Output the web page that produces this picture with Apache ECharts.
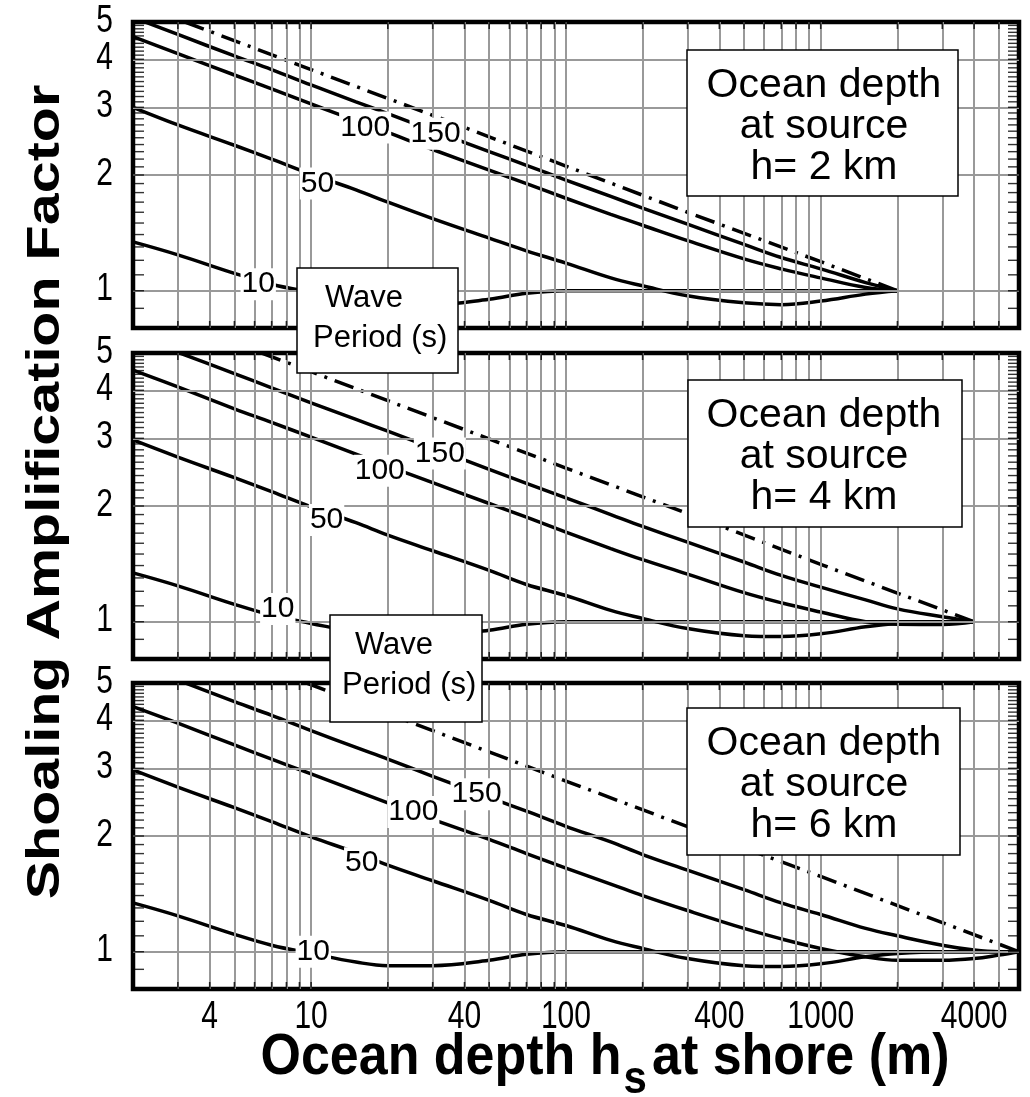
<!DOCTYPE html>
<html>
<head>
<meta charset="utf-8">
<title>Shoaling amplification factor</title>
<script src="https://cdn.jsdelivr.net/npm/echarts@6/dist/echarts.min.js"></script>
<style>
html, body { margin: 0; padding: 0; background: #fff; }
#chart { width: 1030px; height: 1097px; }
</style>
</head>
<body>
<div id="chart"></div>
<script>
var depths = [2, 3, 5, 7, 10, 15, 20, 30, 50, 70, 100, 150, 200, 300, 500, 700, 1000, 1500, 2000, 3000, 4000, 5000, 6000];

// source depth 2 km (curves end at 2000 m)
var h2_T10  = [1.34, 1.24, 1.11, 1.04, 0.99, 0.94, 0.92, 0.92, 0.95, 0.985, 1.0, 1.0, 1.0, 1.0, 1.0, 1.0, 1.0, 1.0, 1.0];
var h2_T50  = [3.0, 2.70, 2.39, 2.20, 2.01, 1.83, 1.70, 1.54, 1.37, 1.27, 1.18, 1.08, 1.03, 0.97, 0.93, 0.92, 0.94, 0.98, 1.0];
var h2_T100 = [4.58, 4.14, 3.64, 3.35, 3.06, 2.77, 2.58, 2.33, 2.06, 1.90, 1.74, 1.58, 1.48, 1.35, 1.21, 1.14, 1.08, 1.02, 1.0];
var h2_T150 = [5.14, 4.64, 4.08, 3.76, 3.43, 3.10, 2.89, 2.61, 2.30, 2.12, 1.94, 1.76, 1.64, 1.49, 1.32, 1.22, 1.14, 1.05, 1.0];
var h2_greenX = [3.2, 10, 30, 100, 300, 1000, 2000];
var h2_greenY = [5.0, 3.76, 2.86, 2.11, 1.60, 1.19, 1.0];

// source depth 4 km
var h4_T10  = [1.34, 1.24, 1.11, 1.04, 0.99, 0.94, 0.92, 0.92, 0.95, 0.985, 1.0, 1.0, 1.0, 1.0, 1.0, 1.0, 1.0, 1.0, 1.0, 1.0, 1.0];
var h4_T50  = [2.97, 2.68, 2.37, 2.18, 1.99, 1.81, 1.68, 1.53, 1.36, 1.25, 1.17, 1.07, 1.02, 0.96, 0.92, 0.915, 0.93, 0.97, 0.99, 1.0, 1.0];
var h4_T100 = [4.51, 4.08, 3.58, 3.30, 3.02, 2.73, 2.54, 2.30, 2.03, 1.87, 1.71, 1.55, 1.45, 1.33, 1.19, 1.12, 1.06, 1.0, 0.985, 0.984, 1.0];
var h4_T150 = [5.56, 5.02, 4.42, 4.06, 3.71, 3.36, 3.13, 2.83, 2.49, 2.29, 2.10, 1.90, 1.77, 1.61, 1.43, 1.32, 1.23, 1.14, 1.08, 1.03, 1.0];
var h4_greenX = [6.4, 10, 40, 100, 400, 1000, 4000];
var h4_greenY = [5.0, 4.47, 3.16, 2.51, 1.78, 1.41, 1.0];

// source depth 6 km
var h6_T10  = [1.34, 1.24, 1.11, 1.04, 0.99, 0.94, 0.92, 0.92, 0.95, 0.985, 1.0, 1.0, 1.0, 1.0, 1.0, 1.0, 1.0, 1.0, 1.0, 1.0, 1.0, 1.0, 1.0];
var h6_T50  = [2.97, 2.68, 2.37, 2.18, 1.99, 1.81, 1.68, 1.53, 1.36, 1.25, 1.17, 1.07, 1.02, 0.96, 0.92, 0.915, 0.93, 0.97, 0.99, 1.0, 1.0, 1.0, 1.0];
var h6_T100 = [4.34, 3.93, 3.45, 3.17, 2.90, 2.62, 2.44, 2.21, 1.96, 1.80, 1.65, 1.50, 1.40, 1.28, 1.15, 1.08, 1.02, 0.97, 0.95, 0.95, 0.96, 0.98, 1.0];
var h6_T150 = [5.63, 5.09, 4.47, 4.12, 3.76, 3.40, 3.17, 2.86, 2.52, 2.32, 2.12, 1.93, 1.79, 1.63, 1.45, 1.34, 1.25, 1.15, 1.10, 1.04, 1.01, 1.0, 1.0];
var h6_greenX = [9.6, 30, 60, 100, 600, 1000, 6000];
var h6_greenY = [5.0, 3.76, 3.16, 2.78, 1.78, 1.57, 1.0];

// wave period labels sitting on the curves: [depth, factor]
var periods = ['10', '50', '100', '150'];
var h2_labelAt = [[6.2, 1.04], [10.6, 1.90], [16.3, 2.66], [30.8, 2.56]];
var h4_labelAt = [[7.4, 1.08], [11.5, 1.84], [18.6, 2.47], [32, 2.74]];
var h6_labelAt = [[10.2, 1.0], [15.8, 1.70], [25.2, 2.31], [44.6, 2.57]];

// axes
var xGridLines = [3, 4, 5, 6, 7, 8, 9, 10, 20, 30, 40, 50, 60, 70, 80, 90, 100, 200, 300, 400, 500, 600, 700, 800, 900, 1000, 2000, 3000, 4000, 5000];
var xTickLabels = [4, 10, 40, 100, 400, 1000, 4000];
var yGridLines = [1, 2, 3, 4];
var yTickLabels = [1, 2, 3, 4, 5];
var yMinorTicks = [0.8, 0.9, 1.0, 1.1, 1.2, 1.3, 1.4, 1.5, 1.6, 1.7, 1.8, 1.9, 2.0, 2.1, 2.2, 2.3, 2.4, 2.5, 2.6, 2.7, 2.8, 2.9,
    3.0, 3.1, 3.2, 3.3, 3.4, 3.5, 3.6, 3.7, 3.8, 3.9, 4.0, 4.1, 4.2, 4.3, 4.4, 4.5, 4.6, 4.7, 4.8, 4.9, 5.0];
var xMin = 2, xMax = 6000, yMin = 0.8, yMax = 5;

var FONT = '"Liberation Sans", Arial, Helvetica, sans-serif';

var panels = [
    { top: 22,  curves: [h2_T10, h2_T50, h2_T100, h2_T150], gx: h2_greenX, gy: h2_greenY, labels: h2_labelAt, km: '2' },
    { top: 353, curves: [h4_T10, h4_T50, h4_T100, h4_T150], gx: h4_greenX, gy: h4_greenY, labels: h4_labelAt, km: '4' },
    { top: 683, curves: [h6_T10, h6_T50, h6_T100, h6_T150], gx: h6_greenX, gy: h6_greenY, labels: h6_labelAt, km: '6' }
];

function pairs(xs, ys) {
    return ys.map(function (y, i) { return [xs[i], y]; });
}

var grids = [], xAxes = [], yAxes = [], series = [];

panels.forEach(function (p, i) {
    grids.push({ left: 133, top: p.top, width: 886, height: 306, show: true,
        borderColor: '#000', borderWidth: 4.5, backgroundColor: 'transparent', z: 5 });
    xAxes.push({ type: 'log', gridIndex: i, min: xMin, max: xMax,
        axisLine: { show: false }, axisTick: { show: false }, axisLabel: { show: false }, splitLine: { show: false } });
    yAxes.push({ type: 'log', gridIndex: i, min: yMin, max: yMax,
        axisLine: { show: false }, axisTick: { show: false }, axisLabel: { show: false }, splitLine: { show: false } });

    // grid lines at every decade step
    var lines = xGridLines.map(function (v) { return { xAxis: v }; })
        .concat(yGridLines.map(function (v) { return { yAxis: v }; }));
    series.push({
        type: 'line', xAxisIndex: i, yAxisIndex: i, data: [], z: 1, silent: true,
        markLine: {
            silent: true, symbol: ['none', 'none'], animation: false,
            lineStyle: { color: '#999', width: 2, type: 'solid' },
            label: { show: false },
            emphasis: { disabled: true },
            data: lines
        }
    });

    // small ticks round the frame
    var tickData = [];
    yMinorTicks.forEach(function (v) { tickData.push({ value: [xMin, v], symbolOffset: [5.5, 0], symbolSize: [11, 1.4] }); });
    yMinorTicks.forEach(function (v) { tickData.push({ value: [xMax, v], symbolOffset: [-5.5, 0], symbolSize: [11, 1.4] }); });
    xGridLines.forEach(function (v) { tickData.push({ value: [v, yMin], symbolOffset: [0, -3.5], symbolSize: [1.6, 7] }); });
    xGridLines.forEach(function (v) { tickData.push({ value: [v, yMax], symbolOffset: [0, 3.5], symbolSize: [1.6, 7] }); });
    series.push({
        type: 'scatter', xAxisIndex: i, yAxisIndex: i, symbol: 'rect', clip: false, silent: true, z: 6,
        itemStyle: { color: '#000' }, data: tickData
    });

    // period curves
    p.curves.forEach(function (ys, k) {
        series.push({
            type: 'line', name: periods[k] + ' s', xAxisIndex: i, yAxisIndex: i,
            data: pairs(depths, ys), smooth: 0.4, showSymbol: false, symbol: 'none', z: 3,
            lineStyle: { color: '#000', width: 3.5 },
            markPoint: {
                symbol: 'circle', symbolSize: 0, silent: true, animation: false,
                label: { show: true, position: 'inside', color: '#000', fontSize: 30, fontFamily: FONT,
                    backgroundColor: '#fff', padding: [1, 1] },
                data: [{ coord: p.labels[k], label: { formatter: periods[k] } }]
            }
        });
    });

    // long-wave (Green's law) limit
    series.push({
        type: 'line', xAxisIndex: i, yAxisIndex: i, data: pairs(p.gx, p.gy),
        showSymbol: false, symbol: 'none', z: 3,
        lineStyle: { color: '#000', width: 3.5, type: [20, 8, 3, 8] }
    });
});

var graphic = [
    { type: 'text', x: 46, y: 492, rotation: Math.PI / 2, scaleX: 1.25, z: 100,
      style: { text: 'Shoaling Amplification Factor', fill: '#000', fontSize: 46, fontWeight: 'bold',
               fontFamily: FONT, align: 'center', verticalAlign: 'middle' } },
    { type: 'text', x: 605, y: 1058, scaleY: 1.12, z: 100,
      style: { text: '{a|Ocean depth h}{s|s}{a|at shore (m)}', fill: '#000', align: 'center', verticalAlign: 'middle',
               rich: {
                   a: { fontSize: 52, fontWeight: 'bold', fontFamily: FONT, color: '#000' },
                   s: { fontSize: 42, fontWeight: 'bold', fontFamily: FONT, color: '#000', padding: [40, 5, 0, 2] }
               } } }
];

var depthBoxes = [
    { x: 687, y: 50, w: 271, h: 146 },
    { x: 688, y: 380, w: 274, h: 147 },
    { x: 687, y: 708, w: 273, h: 147 }
];
depthBoxes.forEach(function (b, i) {
    graphic.push({ type: 'rect', z: 100, shape: { x: b.x, y: b.y, width: b.w, height: b.h },
        style: { fill: '#fff', stroke: '#000', lineWidth: 1.5 } });
    graphic.push({ type: 'text', z: 101, x: 824, y: b.y + 77,
        style: { text: 'Ocean depth\nat source\nh= ' + panels[i].km + ' km', fill: '#000', fontSize: 41,
                 lineHeight: 41, fontFamily: FONT, align: 'center', verticalAlign: 'middle' } });
});

var waveBoxes = [
    { x: 297, y: 268, w: 161, h: 105, wave: 325, period: 313 },
    { x: 330, y: 615, w: 152, h: 107, wave: 355, period: 342 }
];
waveBoxes.forEach(function (b) {
    graphic.push({ type: 'rect', z: 100, shape: { x: b.x, y: b.y, width: b.w, height: b.h },
        style: { fill: '#fff', stroke: '#000', lineWidth: 1.5 } });
    graphic.push({ type: 'text', z: 101, x: b.wave, y: b.y + 30,
        style: { text: 'Wave', fill: '#000', fontSize: 31, fontFamily: FONT, align: 'left', verticalAlign: 'middle' } });
    graphic.push({ type: 'text', z: 101, x: b.period, y: b.y + 70,
        style: { text: 'Period (s)', fill: '#000', fontSize: 31, fontFamily: FONT, align: 'left', verticalAlign: 'middle' } });
});

var chart = echarts.init(document.getElementById('chart'), null, { renderer: 'canvas' });
chart.setOption({
    animation: false,
    backgroundColor: '#fff',
    textStyle: { fontFamily: FONT },
    grid: grids,
    xAxis: xAxes,
    yAxis: yAxes,
    series: series
});

// tick labels: placed through the axes, drawn tall and narrow like the figure's lettering
var TICK_SIZE = 30, TICK_STRETCH = 1.28;
panels.forEach(function (p, i) {
    yTickLabels.forEach(function (v) {
        graphic.push({ type: 'text', z: 90, x: 113, y: chart.convertToPixel({ yAxisIndex: i }, v) - 1, scaleY: TICK_STRETCH,
            style: { text: String(v), fill: '#000', fontSize: TICK_SIZE, fontFamily: FONT, align: 'right', verticalAlign: 'middle' } });
    });
});
var bottomY = chart.convertToPixel({ yAxisIndex: panels.length - 1 }, yMin);
xTickLabels.forEach(function (v) {
    graphic.push({ type: 'text', z: 90, x: chart.convertToPixel({ xAxisIndex: panels.length - 1 }, v), y: bottomY + 9,
        scaleY: TICK_STRETCH,
        style: { text: String(v), fill: '#000', fontSize: TICK_SIZE, fontFamily: FONT, align: 'center', verticalAlign: 'top' } });
});

chart.setOption({ graphic: graphic });
</script>
</body>
</html>
